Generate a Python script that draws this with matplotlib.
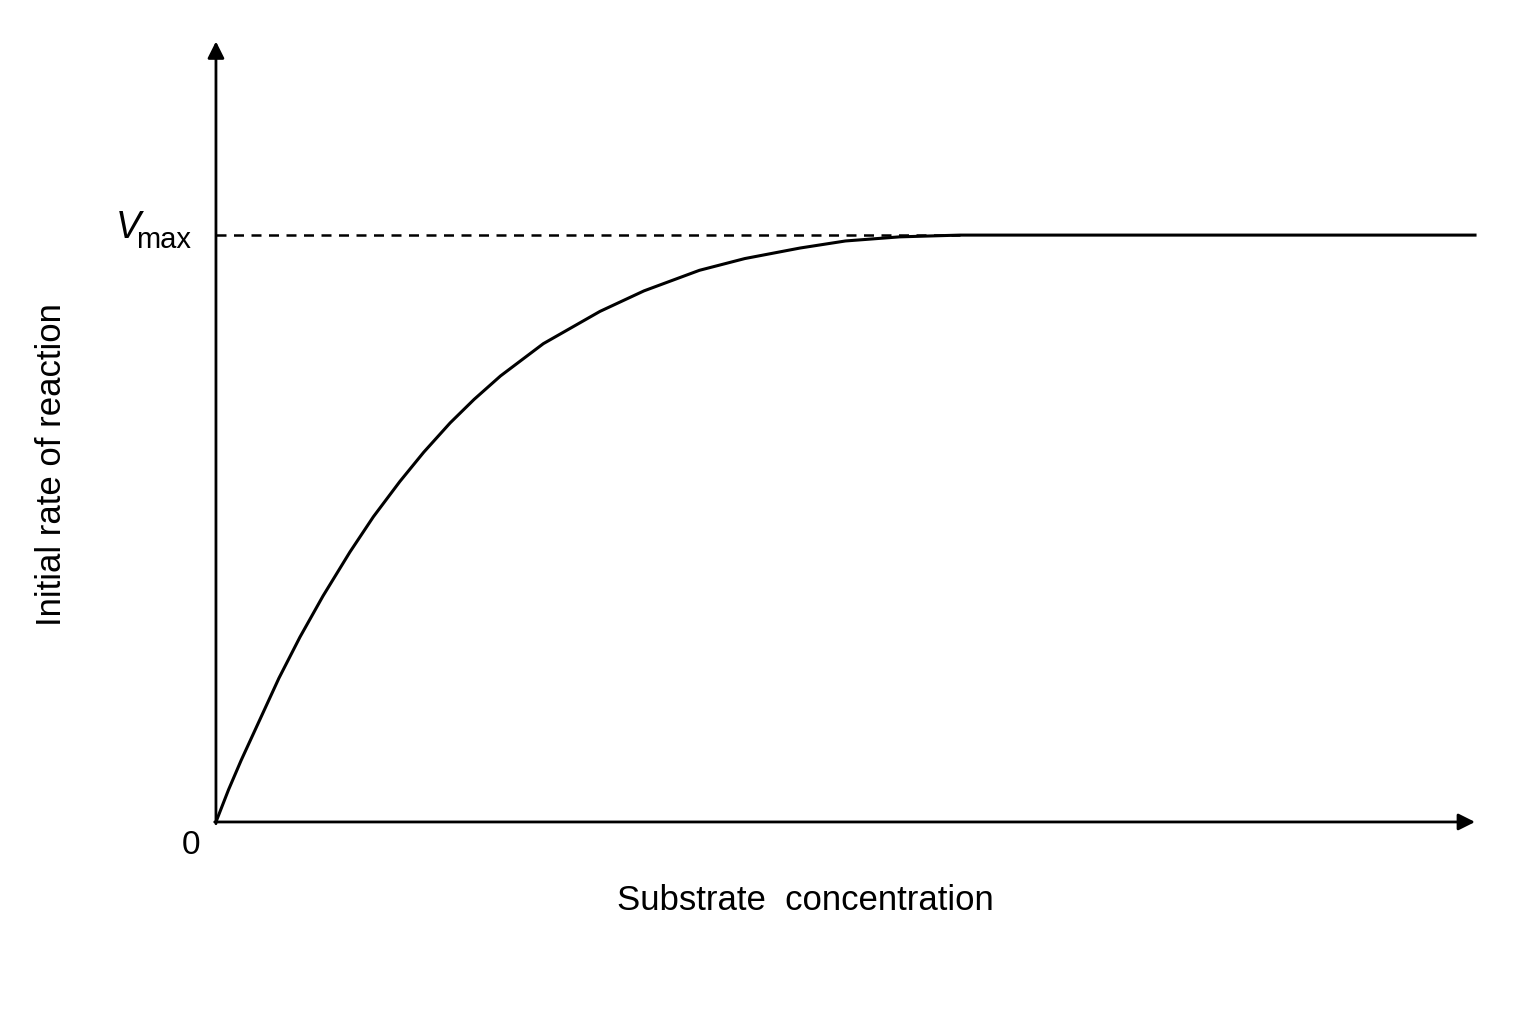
import matplotlib
matplotlib.use("Agg")
import matplotlib.pyplot as plt

substrate = [0, 0.1, 0.2, 0.35, 0.5, 0.667, 0.85, 1.064, 1.25, 1.46, 1.65, 1.86, 2.05, 2.26, 2.6, 3.05, 3.4, 3.84, 4.2, 4.64, 5.0, 5.43, 5.91, 10.0]
rate = [0, 0.055, 0.105, 0.175, 0.245, 0.315, 0.385, 0.46, 0.52, 0.58, 0.63, 0.68, 0.72, 0.76, 0.815, 0.87, 0.905, 0.94, 0.96, 0.978, 0.99, 0.997, 1.0, 1.0]
vmax = 1.0
x_label = "Substrate  concentration"
y_label = "Initial rate of reaction"

plt.rcParams['font.family'] = ['Liberation Sans', 'DejaVu Sans']
fig = plt.figure(figsize=(15.36, 10.24), dpi=100)
ax = fig.add_axes([0.1406, 0.1973, 0.8197, 0.7588])
ax.set_xlim(0, 10)
ax.set_ylim(0, 1.324)
ax.axis('off')

ax.plot(substrate, rate, color='black', lw=2.2, clip_on=False)
ax.plot([0, 5.91], [vmax, vmax], color='black', lw=1.8, ls=(0, (4, 3)))

ax.annotate('', xy=(10.0, 0), xytext=(-0.01, 0), annotation_clip=False,
            arrowprops=dict(arrowstyle='-|>', color='black', lw=2, mutation_scale=25,
                            shrinkA=0, shrinkB=0))
ax.annotate('', xy=(0, 1.33), xytext=(0, -0.003), annotation_clip=False,
            arrowprops=dict(arrowstyle='-|>', color='black', lw=2, mutation_scale=25,
                            shrinkA=0, shrinkB=0))

ax.text(-0.2, -0.04, '0', fontsize=24, ha='center', va='center')
fig.text(0.0755, 1 - 228/1024, 'V', fontsize=27, style='italic', ha='left', va='center')
fig.text(0.0885, 1 - 240/1024, 'max', fontsize=21, ha='left', va='center')

fig.text(805/1536, 1 - 900/1024, x_label, fontsize=25, ha='center', va='center')
fig.text(52/1536, 1 - 465/1024, y_label, fontsize=25, ha='center', va='center', rotation=90)

fig.savefig('out.png', dpi=100)
